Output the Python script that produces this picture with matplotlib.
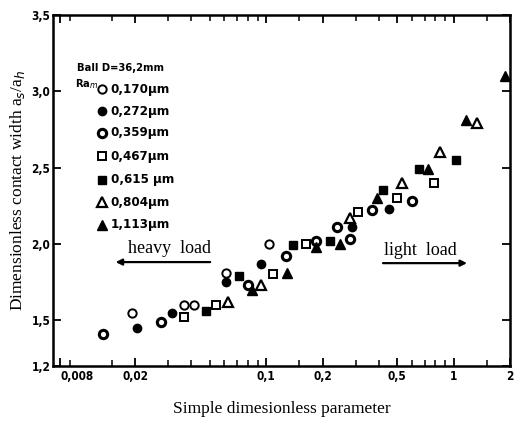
import matplotlib
matplotlib.use("Agg")
import matplotlib.pyplot as plt
from matplotlib.ticker import FixedLocator, NullFormatter, LogLocator

# Ra_m series: simple dimensionless parameter (x) vs a_s/a_h (y)
x_170 = [0.0193, 0.0365, 0.0412, 0.0611, 0.1035]
y_170 = [1.55, 1.60, 1.60, 1.81, 2.00]

x_272 = [0.0205, 0.0315, 0.0611, 0.0939, 0.287, 0.452]
y_272 = [1.45, 1.55, 1.75, 1.87, 2.11, 2.23]

x_359 = [0.0135, 0.0275, 0.080, 0.1276, 0.1845, 0.280, 0.2387, 0.367, 0.600]
y_359 = [1.41, 1.49, 1.73, 1.92, 2.02, 2.03, 2.11, 2.22, 2.28]

x_467 = [0.0365, 0.0540, 0.1088, 0.1632, 0.309, 0.499, 0.786]
y_467 = [1.52, 1.60, 1.80, 2.00, 2.21, 2.30, 2.40]

x_615 = [0.0478, 0.0716, 0.139, 0.219, 0.420, 0.653, 1.029]
y_615 = [1.56, 1.79, 1.99, 2.02, 2.35, 2.49, 2.55]

x_804 = [0.0626, 0.0939, 0.280, 0.530, 0.846, 1.332]
y_804 = [1.62, 1.73, 2.17, 2.40, 2.60, 2.79]

x_1113 = [0.0841, 0.1292, 0.1845, 0.2477, 0.390, 0.730, 1.164, 1.878]
y_1113 = [1.70, 1.81, 1.98, 2.00, 2.30, 2.49, 2.81, 3.10]

labels = ["0,170\u03bcm", "0,272\u03bcm", "0,359\u03bcm", "0,467\u03bcm",
          "0,615 \u03bcm", "0,804\u03bcm", "1,113\u03bcm"]

x_ticks = [0.008, 0.02, 0.1, 0.2, 0.5, 1, 2]
x_ticklabels = ["0,008", "0,02", "0,1", "0,2", "0,5", "1", "2"]
y_ticks = [1.2, 1.5, 2.0, 2.5, 3.0, 3.5]
y_ticklabels = ["1,2", "1,5", "2,0", "2,5", "3,0", "3,5"]

tick_font = dict(family="DejaVu Sans", fontstretch="condensed",
                 fontweight="bold", fontsize=8.5)
leg_font = dict(family="DejaVu Sans", fontstretch="condensed",
                fontweight="bold", fontsize=9.5)
head_font = dict(family="DejaVu Sans", fontstretch="condensed",
                 fontweight="bold", fontsize=8)
serif_font = ['Liberation Serif', 'DejaVu Serif']

# marker style per series: (marker, filled, edge width, size)
styles = [("o", False, 1.4, 6.0),
          ("o", True, 1.0, 6.0),
          ("o", False, 2.2, 6.0),
          ("s", False, 1.4, 5.5),
          ("s", True, 1.0, 5.5),
          ("^", False, 1.6, 7.5),
          ("^", True, 1.0, 7.5)]

series = [(x_170, y_170), (x_272, y_272), (x_359, y_359), (x_467, y_467),
          (x_615, y_615), (x_804, y_804), (x_1113, y_1113)]

fig = plt.figure(figsize=(5.14, 4.28), dpi=100)
ax = fig.add_axes([0.1031, 0.1449, 0.8891, 0.8201])

for (xs, ys), (m, filled, ew, ms) in zip(series, styles):
    ax.plot(xs, ys, linestyle="none", marker=m, ms=ms, mew=ew,
            mec="black", mfc="black" if filled else "white")

ax.set_xscale("log")
ax.set_xlim(0.0073, 2)
ax.set_ylim(1.2, 3.5)

ax.xaxis.set_major_locator(FixedLocator(x_ticks))
ax.set_xticklabels(x_ticklabels, **tick_font)
ax.get_xticklabels()[0].set_horizontalalignment("left")
ax.xaxis.set_minor_locator(LogLocator(base=10, subs=[1.5, 3, 4, 5, 6, 7, 8, 9]))
ax.xaxis.set_minor_formatter(NullFormatter())
ax.set_yticks(y_ticks)
ax.set_yticklabels(y_ticklabels, **tick_font)

ax.tick_params(axis="both", which="major", direction="in", length=6, width=1.3,
               top=True, right=True, pad=3)
ax.tick_params(axis="y", which="major", pad=2)
ax.tick_params(axis="x", which="minor", direction="in", length=4, width=1.1,
               top=True)
for s in ax.spines.values():
    s.set_linewidth(1.8)

ax.set_xlabel("Simple dimesionless parameter", family=serif_font, fontsize=12.5,
              labelpad=13)
ax.set_ylabel("Dimensionless contact width a$_s$/a$_h$", family=serif_font,
              fontsize=12.5, labelpad=3)

# load regime annotations
ax.text(0.256, 0.336, "heavy  load", transform=ax.transAxes, ha="center",
        va="center", family=serif_font, fontsize=13)
ax.annotate("", xy=(0.131, 0.296), xytext=(0.350, 0.296), xycoords="axes fraction",
            arrowprops=dict(arrowstyle="-|>", lw=1.6, color="black",
                            mutation_scale=9))
ax.text(0.803, 0.330, "light  load", transform=ax.transAxes, ha="center",
        va="center", family=serif_font, fontsize=13)
ax.annotate("", xy=(0.912, 0.293), xytext=(0.716, 0.293), xycoords="axes fraction",
            arrowprops=dict(arrowstyle="-|>", lw=1.6, color="black",
                            mutation_scale=9))

# legend drawn by hand inside the axes
ax.text(0.0525, 0.849, "Ball D=36,2mm", transform=ax.transAxes, va="center",
        **head_font)
ax.text(0.048, 0.803, "Ra$_m$", transform=ax.transAxes, va="center", **head_font)
row_y = [0.789, 0.726, 0.664, 0.598, 0.530, 0.467, 0.402]
for yy, lab, (m, filled, ew, ms) in zip(row_y, labels, styles):
    ax.plot([0.108], [yy], transform=ax.transAxes, linestyle="none", marker=m,
            ms=ms, mew=ew, mec="black", mfc="black" if filled else "white")
    ax.text(0.126, yy, lab, transform=ax.transAxes, va="center", **leg_font)

fig.savefig("out.png", dpi=100)
